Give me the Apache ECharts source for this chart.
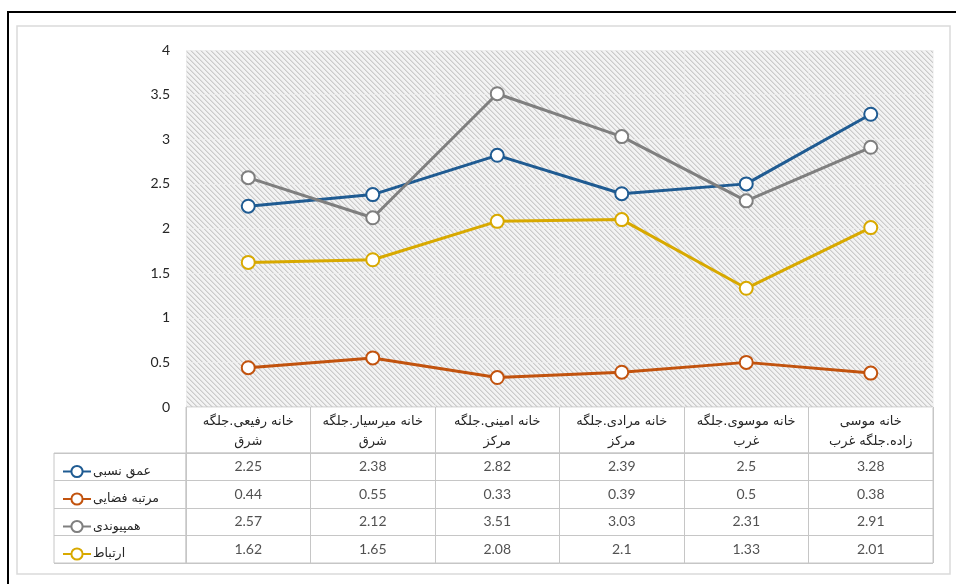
<!DOCTYPE html>
<html>
<head>
<meta charset="utf-8">
<script src="https://cdn.jsdelivr.net/npm/echarts@6/dist/echarts.min.js"></script>
<style>
html,body{margin:0;padding:0;background:#fff;}
#c{width:956px;height:584px;}
</style>
</head>
<body>
<div id="c"></div>
<script>
// ---- data ----
const categories = [
  'خانه رفیعی.جلگه\nشرق',
  'خانه میرسیار.جلگه\nشرق',
  'خانه امینی.جلگه\nمرکز',
  'خانه مرادی.جلگه\nمرکز',
  'خانه موسوی.جلگه\nغرب',
  'خانه موسی\nزاده.جلگه غرب'
];
const seriesNames = ['عمق نسبی', 'مرتبه فضایی', 'همپیوندی', 'ارتباط'];
const depth = [2.25, 2.38, 2.82, 2.39, 2.5, 3.28];
const spatialRank = [0.44, 0.55, 0.33, 0.39, 0.5, 0.38];
const integration = [2.57, 2.12, 3.51, 3.03, 2.31, 2.91];
const connection = [1.62, 1.65, 2.08, 2.1, 1.33, 2.01];
const yTicks = [0, 0.5, 1, 1.5, 2, 2.5, 3, 3.5, 4];

const seriesValues = [depth, spatialRank, integration, connection];
const colors = ['#1f5b92', '#c2530e', '#7f7f7f', '#d8a900'];
const headLine1 = categories.map(s => s.split('\n')[0]);
const headLine2 = categories.map(s => s.split('\n')[1]);

function hatch() {
  const n = 5;
  const c = document.createElement('canvas');
  c.width = n; c.height = n;
  const ctx = c.getContext('2d');
  ctx.fillStyle = '#f3f3f3';
  ctx.fillRect(0, 0, n, n);
  for (let y = 0; y < n; y++) {
    for (let x = 0; x < n; x++) {
      const d = ((x - y) % n + n) % n;
      if (d === 0) { ctx.fillStyle = '#cbcbcb'; ctx.fillRect(x, y, 1, 1); }
      else if (d === 1) { ctx.fillStyle = '#dedede'; ctx.fillRect(x, y, 1, 1); }
    }
  }
  return c;
}

const chart = echarts.init(document.getElementById('c'), null, {renderer: 'canvas'});
const numFont = 'Lato, "Open Sans", sans-serif';
const faFont = '"DejaVu Sans", "Noto Sans", sans-serif';
const borderCol = '#c6c6c6';
const txt = '#262626';

const lineSeries = seriesNames.map((name, i) => ({
  name: name,
  type: 'line',
  xAxisIndex: 0,
  yAxisIndex: 0,
  data: seriesValues[i],
  color: colors[i],
  symbol: 'circle',
  symbolSize: 13,
  lineStyle: {color: colors[i], width: 3},
  itemStyle: {color: '#ffffff', borderColor: colors[i], borderWidth: 2},
  emphasis: {disabled: true},
  z: 3
}));

const tableData = [];
seriesValues.forEach((arr, r) => arr.forEach((v, c) => tableData.push([c, r, v])));

const hiddenCat = (gi, data) => ({type: 'category', gridIndex: gi, data: data,
  axisLine: {show: false}, axisTick: {show: false}, axisLabel: {show: false}, splitLine: {show: false}});

const option = {
  animation: false,
  backgroundColor: '#ffffff',
  graphic: [
    {type: 'rect', shape: {x: 8, y: 12, width: 960, height: 600}, style: {fill: 'none', stroke: '#000', lineWidth: 2}, silent: true},
    {type: 'rect', shape: {x: 17, y: 26, width: 933, height: 548}, style: {fill: 'none', stroke: '#dadada', lineWidth: 1.5}, silent: true}
  ],
  grid: [
    {left: 186, top: 50, width: 747, height: 357, show: true, backgroundColor: {image: hatch(), repeat: 'repeat'}, borderWidth: 0},
    {left: 186, top: 407, width: 747, height: 46, show: true, borderColor: borderCol, borderWidth: 1, backgroundColor: 'transparent'},
    {left: 186, top: 453, width: 747, height: 110, show: true, borderColor: borderCol, borderWidth: 1, backgroundColor: 'transparent'},
    {left: 54, top: 453, width: 132, height: 110, show: true, borderColor: borderCol, borderWidth: 1, backgroundColor: 'transparent'},
    {left: 186, top: 407, width: 747, height: 25, show: false}
  ],
  xAxis: [
    {type: 'category', gridIndex: 0, data: headLine1, boundaryGap: true,
     axisLine: {show: false}, axisTick: {show: false},
     axisLabel: {interval: 0, margin: 8, fontSize: 13, color: txt, fontFamily: faFont},
     splitLine: {show: true, interval: 0, lineStyle: {color: 'rgba(238,238,238,0.6)', width: 1}}},
    {type: 'category', gridIndex: 1, data: categories, boundaryGap: true,
     axisLine: {show: false}, axisTick: {show: false}, axisLabel: {show: false},
     splitLine: {show: true, interval: 0, lineStyle: {color: borderCol, width: 1}}},
    {type: 'category', gridIndex: 2, data: categories, boundaryGap: true,
     axisLine: {show: false}, axisTick: {show: false}, axisLabel: {show: false},
     splitLine: {show: true, interval: 0, lineStyle: {color: borderCol, width: 1}}},
    hiddenCat(3, ['x']),
    {type: 'category', gridIndex: 4, data: headLine2, boundaryGap: true,
     axisLine: {show: false}, axisTick: {show: false}, splitLine: {show: false},
     axisLabel: {interval: 0, margin: 3, fontSize: 13, color: txt, fontFamily: faFont}}
  ],
  yAxis: [
    {type: 'value', gridIndex: 0, min: yTicks[0], max: yTicks[yTicks.length - 1], interval: 0.5,
     axisLine: {show: false}, axisTick: {show: false},
     axisLabel: {margin: 16, fontSize: 14, color: txt, fontFamily: numFont},
     splitLine: {show: true, lineStyle: {color: 'rgba(240,240,240,0.7)', width: 1}}},
    hiddenCat(1, ['h']),
    {type: 'category', gridIndex: 2, data: seriesNames, inverse: true, boundaryGap: true,
     axisLine: {show: false}, axisTick: {show: false}, axisLabel: {show: false},
     splitLine: {show: true, interval: 0, lineStyle: {color: borderCol, width: 1}}},
    {type: 'category', gridIndex: 3, data: seriesNames, inverse: true, boundaryGap: true,
     axisLine: {show: false}, axisTick: {show: false}, axisLabel: {show: false},
     splitLine: {show: true, interval: 0, lineStyle: {color: borderCol, width: 1}}},
    hiddenCat(4, ['h2'])
  ],
  legend: {
    data: seriesNames,
    orient: 'vertical',
    left: 57,
    top: 459.5,
    itemWidth: 28,
    itemHeight: 14,
    itemGap: 13.5,
    align: 'left',
    selectedMode: false,
    textStyle: {fontSize: 12.5, color: txt, fontFamily: faFont, lineHeight: 14, padding: [0, 0, 0, -3]}
  },
  series: lineSeries.concat([{
    name: 'table',
    type: 'scatter',
    xAxisIndex: 2,
    yAxisIndex: 2,
    data: tableData,
    symbolSize: 0.1,
    itemStyle: {color: 'transparent'},
    silent: true,
    label: {show: true, position: 'inside', formatter: p => String(p.value[2]),
            fontSize: 14, color: txt, fontFamily: numFont}
  }])
};
chart.setOption(option);
</script>
</body>
</html>
